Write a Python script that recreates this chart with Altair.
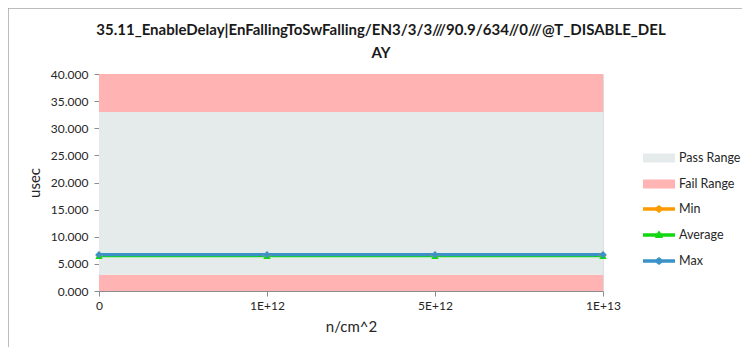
import altair as alt
import pandas as pd

# ---- data ----
x_labels = ["0", "1E+12", "5E+12", "1E+13"]
series_names = ["Min", "Average", "Max"]
min_vals = [6.60, 6.60, 6.60, 6.60]
avg_vals = [6.50, 6.50, 6.50, 6.50]
max_vals = [6.70, 6.70, 6.70, 6.70]
series_colors = ["#FF9A00", "#12D812", "#3A92C6"]
series_shapes = ["diamond", "triangle-up", "diamond"]

range_lo = [0, 3, 33]
range_hi = [3, 33, 40]
range_kind = ["Fail Range", "Pass Range", "Fail Range"]
range_names = ["Pass Range", "Fail Range"]
range_colors = ["#E5EBEB", "#FFB3B3"]

title_lines = ["35.11_EnableDelay|EnFallingToSwFalling/EN3/3/3///90.9/634//0///@T_DISABLE_DEL", "AY"]
y_ticks = [0, 5, 10, 15, 20, 25, 30, 35, 40]

FONT = "Lato"

# ---- tables ----
rows = []
for name, vals in zip(series_names, [min_vals, avg_vals, max_vals]):
    for xl, v in zip(x_labels, vals):
        rows.append({"x": xl, "value": v, "series": name})
df = pd.DataFrame(rows)
bands = pd.DataFrame({"lo": range_lo, "hi": range_hi, "kind": range_kind})
legend_df = pd.DataFrame({"series": series_names})
one = pd.DataFrame({"a": [0]})

W, H = 504, 217
PL, PT = 91, 66
TOTW, TOTH = 734, 339
PR, PB = TOTW - PL - W, TOTH - PT - H

yscale = alt.Scale(domain=[0, 40], nice=False, zero=True)
xscale = alt.Scale(type="point", padding=0, domain=x_labels)

yaxis = alt.Axis(values=y_ticks, format=".3f", title="usec", grid=False,
                 labelOverlap=False, tickCount=9,
                 labelFontSize=12, labelColor="#262626", labelFont=FONT,
                 titleFont=FONT, titleFontSize=15, titleFontWeight="normal",
                 titleColor="#262626", titlePadding=8,
                 domainColor="#8C8C8C", tickColor="#8C8C8C", tickSize=5,
                 labelPadding=6)
xaxis = alt.Axis(title="n/cm^2", labelAngle=0, labelFontSize=12, labelFont=FONT,
                 labelColor="#262626", titleFont=FONT, titleFontSize=15,
                 titleFontWeight="normal", titleColor="#262626", titlePadding=8,
                 domainColor="#8C8C8C", tickColor="#8C8C8C", tickSize=5,
                 labelPadding=4)

rect_path = "M-1.6,-0.45 L1.6,-0.45 L1.6,0.45 L-1.6,0.45 Z"
line_diamond = ("M-1.6,-0.17 L-0.3,-0.17 L0,-0.4 L0.3,-0.17 L1.6,-0.17 L1.6,0.17 "
                "L0.3,0.17 L0,0.4 L-0.3,0.17 L-1.6,0.17 Z")
line_triangle = ("M-1.6,-0.17 L-0.2,-0.17 L0,-0.45 L0.2,-0.17 L1.6,-0.17 L1.6,0.17 "
                 "L0.35,0.17 L0.4,0.3 L-0.4,0.3 L-0.35,0.17 L-1.6,0.17 Z")
legend_paths = [line_diamond, line_triangle, line_diamond]

bands_layer = alt.Chart(bands).mark_rect().encode(
    x=alt.value(0),
    x2=alt.value("width"),
    y=alt.Y("lo:Q", scale=yscale, axis=yaxis),
    y2="hi:Q",
    fill=alt.Fill("kind:N", scale=alt.Scale(domain=range_names, range=range_colors),
                  legend=alt.Legend(title=None, orient="none", legendX=550, legendY=74,
                                    symbolType=rect_path, symbolSize=400,
                                    symbolStrokeWidth=0, rowPadding=9,
                                    labelFontSize=12.5, labelFont=FONT, labelColor="#262626",
                                    labelOffset=10, padding=0)),
)

lines_layer = alt.Chart(df).mark_line(strokeWidth=3.2).encode(
    x=alt.X("x:N", scale=xscale, sort=x_labels, axis=xaxis),
    y=alt.Y("value:Q", scale=yscale, axis=yaxis),
    color=alt.Color("series:N", scale=alt.Scale(domain=series_names, range=series_colors),
                    legend=None),
)

points_layer = alt.Chart(df).mark_point(filled=True, size=55, opacity=1).encode(
    x=alt.X("x:N", scale=xscale, sort=x_labels, axis=xaxis),
    y=alt.Y("value:Q", scale=yscale, axis=yaxis),
    color=alt.Color("series:N", scale=alt.Scale(domain=series_names, range=series_colors),
                    legend=None),
    shape=alt.Shape("series:N", scale=alt.Scale(domain=series_names, range=series_shapes),
                    legend=None),
)

leg = alt.Legend(title=None, orient="none", legendX=550, legendY=125,
                 symbolSize=400, rowPadding=9, labelFontSize=12.5, symbolOpacity=1,
                 symbolStrokeWidth=0, labelFont=FONT, labelColor="#262626",
                 labelOffset=10, padding=0)
legend_layer = alt.Chart(legend_df).mark_point(filled=True, opacity=0, size=400).encode(
    color=alt.Color("series:N", scale=alt.Scale(domain=series_names, range=series_colors),
                    legend=leg),
    shape=alt.Shape("series:N", scale=alt.Scale(domain=series_names, range=legend_paths),
                    legend=leg),
)

border_top = alt.Chart(one).mark_rule(color="#A6A6A6", strokeWidth=1.5).encode(
    x=alt.value(-PL), x2=alt.value(W + PR), y=alt.value(-PT), y2=alt.value(-PT))
border_left = alt.Chart(one).mark_rule(color="#A6A6A6", strokeWidth=1.5).encode(
    x=alt.value(-PL), x2=alt.value(-PL), y=alt.value(-PT), y2=alt.value(H + PB))

chart = alt.layer(bands_layer, lines_layer, points_layer, legend_layer,
                  border_top, border_left).resolve_scale(
    color="independent", shape="independent"
).properties(
    width=W, height=H,
    padding={"left": PL, "top": PT, "right": PR, "bottom": PB},
    autosize=alt.AutoSizeParams(type="none"),
    title=alt.TitleParams(text=title_lines, font=FONT, fontSize=15, fontWeight="bold",
                          color="#1A1A1A", anchor="middle", frame="group", dx=30,
                          lineHeight=23, offset=-54),
).configure_view(stroke=None).configure(background="white")

chart.save("out.html", embed_options={"renderer": "svg", "actions": False})
